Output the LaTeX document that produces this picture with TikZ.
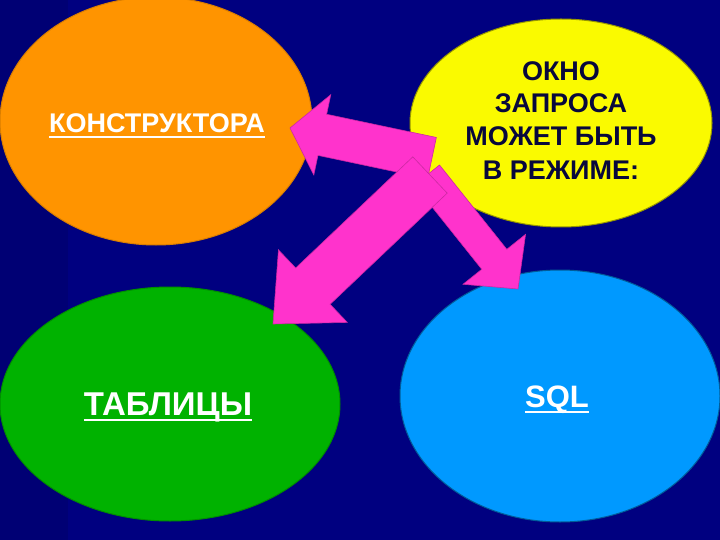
\documentclass[tikz,border=0pt]{standalone}
\usepackage{fontspec}
\setmainfont{Liberation Sans}
\usetikzlibrary{shapes.geometric,calc}
\definecolor{bg}{RGB}{0,0,128}
\definecolor{bgl}{RGB}{0,0,116}
\definecolor{orng}{RGB}{255,148,0}
\definecolor{yell}{RGB}{250,250,0}
\definecolor{grn}{RGB}{0,178,0}
\definecolor{blu}{RGB}{0,153,255}
\definecolor{pnk}{RGB}{255,51,204}
\definecolor{ink}{RGB}{8,8,60}
\newcommand\blkarrow[5]{%
  \coordinate (#2base) at ($(#2)!#5!(#1)$);
  \filldraw[arrowfill] ($(#1)!#3!90:(#2)$) -- ($(#2base)!#3!-90:(#1)$) -- ($(#2base)!#4!-90:(#1)$) -- (#2)
    -- ($(#2base)!#4!90:(#1)$) -- ($(#2base)!#3!90:(#1)$) -- ($(#1)!#3!-90:(#2)$) -- cycle;}
\begin{document}
\begin{tikzpicture}[x=1pt,y=-1pt,
  blob/.style={ellipse,inner sep=0pt,line width=1pt},
  arrowfill/.style={fill=pnk,draw=pnk!80!black,line width=0.6pt,line join=miter},
  wlbl/.style={inner sep=0pt,anchor=base,text=white},
  ylbl/.style={inner sep=0pt,anchor=base,text=ink,font=\fontsize{27}{30}\selectfont\bfseries},
  uline/.style={white,line width=2pt}]
\useasboundingbox (0,0) rectangle (720,540);
\clip (0,0) rectangle (720,540);
\fill[bg] (0,0) rectangle (720,540);
\fill[bgl] (0,0) rectangle (68,540);
% ellipses
\node[blob,fill=orng,draw=orng!85!black,minimum width=312pt,minimum height=248pt] (kon) at (156,121) {};
\node[blob,fill=yell,draw=yell!60!black,minimum width=302pt,minimum height=208pt] (okno) at (561,123) {};
\node[blob,fill=grn,draw=grn!80!black,minimum width=340pt,minimum height=234pt] (tab) at (170,404) {};
\node[blob,fill=blu,draw=blu!60!black,minimum width=320pt,minimum height=252pt] (sql) at (560,396) {};
% arrows
\coordinate (s1) at (432,158);
\coordinate (t1) at (290,128);
\coordinate (s3) at (427,175);
\coordinate (t3) at (518,289);
\coordinate (s2) at (430,175);
\coordinate (t2) at (273,324);
\blkarrow{s1}{t1}{21pt}{41pt}{33pt}
\blkarrow{s3}{t3}{16pt}{40pt}{38pt}
\blkarrow{s2}{t2}{25pt}{50pt}{55pt}
% texts
\node[wlbl,font=\fontsize{27}{30}\selectfont\bfseries] (tk) at (157,133) {КОНСТРУКТОРА};
\draw[uline] ([yshift=-4pt]tk.base west) -- ([yshift=-4pt]tk.base east);
\node[wlbl,font=\fontsize{33}{36}\selectfont\bfseries] (tt) at (168,415) {ТАБЛИЦЫ};
\draw[uline] ([yshift=-5pt]tt.base west) -- ([yshift=-5pt]tt.base east);
\node[wlbl,font=\fontsize{31}{34}\selectfont\bfseries] (ts) at (557,407) {SQL};
\draw[uline] ([yshift=-5pt]ts.base west) -- ([yshift=-5pt]ts.base east);
\node[ylbl] (y1) at (561,81) {ОКНО};
\node[ylbl] (y2) at (561,113) {ЗАПРОСА};
\node[ylbl] (y3) at (561,146) {МОЖЕТ БЫТЬ};
\node[ylbl] (y4) at (561,180) {В РЕЖИМЕ:};
\end{tikzpicture}
\end{document}
